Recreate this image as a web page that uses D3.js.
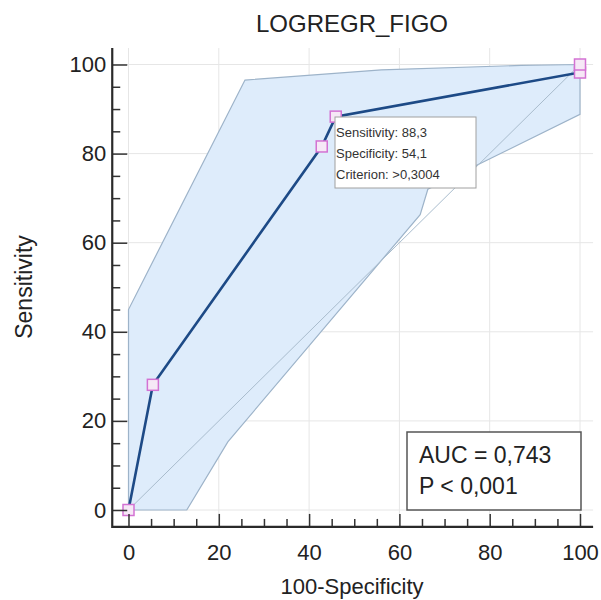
<!DOCTYPE html>
<html>
<head>
<meta charset="utf-8">
<script src="https://cdn.jsdelivr.net/npm/d3@7"></script>
<style>
  body { margin: 0; background: #fff; }
  text { font-family: "Liberation Sans", Arial, sans-serif; fill: #222; }
</style>
</head>
<body>
<div id="chart"></div>
<script>
// ROC curve points (100-Specificity, Sensitivity)
const rocFpr = [0, 5.4, 42.8, 45.9, 100, 100];
const rocTpr = [0, 28.1, 81.6, 88.3, 98.2, 100];

// 95% confidence band outline
const bandX = [0, 0, 25.8, 56, 87, 100, 100, 66.3, 64.6, 22, 12.9];
const bandY = [0, 45, 96.5, 98.8, 99.8, 100, 88.8, 72, 66.3, 15.3, 0];

const majorTicks = [0, 20, 40, 60, 80, 100];
const minorTicks = [5, 10, 15, 25, 30, 35, 45, 50, 55, 65, 70, 75, 85, 90, 95];

const tooltipLines = ['Sensitivity: 88,3', 'Specificity: 54,1', 'Criterion: >0,3004'];
const aucLines = ['AUC = 0,743', 'P < 0,001'];

const width = 601, height = 600;

const svg = d3.select('#chart')
  .append('svg')
  .attr('width', width)
  .attr('height', height);

const x = d3.scaleLinear().domain([0, 100]).range([128.5, 580]);
const y = d3.scaleLinear().domain([0, 100]).range([510, 64.5]);

// axis frame extents (in data units)
const xLo = -3.6, xHi = 102.9, yLo = -3.8, yHi = 103.7;

// gridlines
const grid = svg.append('g').attr('stroke', '#e6e6e6').attr('stroke-width', 1);
grid.selectAll('.gv')
  .data(majorTicks)
  .enter()
  .append('line')
  .attr('x1', d => x(d)).attr('x2', d => x(d))
  .attr('y1', y(yLo)).attr('y2', y(yHi));
grid.selectAll('.gh')
  .data(majorTicks)
  .enter()
  .append('line')
  .attr('y1', d => y(d)).attr('y2', d => y(d))
  .attr('x1', x(xLo)).attr('x2', x(xHi));

// confidence band
const band = bandX.map((d, i) => [x(d), y(bandY[i])]);
svg.append('path')
  .attr('d', d3.line()(band) + 'Z')
  .attr('fill', '#deecfb')
  .attr('stroke', '#9db3c9')
  .attr('stroke-width', 1.2);

// diagonal reference
svg.append('line')
  .attr('x1', x(0)).attr('y1', y(0))
  .attr('x2', x(100)).attr('y2', y(100))
  .attr('stroke', '#a9bccd')
  .attr('stroke-width', 1);

// ROC line
const roc = rocFpr.map((d, i) => ({ fx: d, ty: rocTpr[i] }));
svg.append('path')
  .datum(roc)
  .attr('d', d3.line().x(d => x(d.fx)).y(d => y(d.ty)))
  .attr('fill', 'none')
  .attr('stroke', '#1d4a86')
  .attr('stroke-width', 2.6);

svg.append('g')
  .selectAll('rect')
  .data(roc)
  .enter()
  .append('rect')
  .attr('x', d => x(d.fx) - 5.5)
  .attr('y', d => y(d.ty) - 5.5)
  .attr('width', 11)
  .attr('height', 11)
  .attr('fill', '#f6e8f6')
  .attr('stroke', '#d372d3')
  .attr('stroke-width', 1.5);

// tooltip box
const tip = svg.append('g');
tip.append('rect')
  .attr('x', 335).attr('y', 117)
  .attr('width', 141).attr('height', 71)
  .attr('fill', '#fff')
  .attr('stroke', '#a0a0a0')
  .attr('stroke-width', 1);
tip.selectAll('text')
  .data(tooltipLines)
  .enter()
  .append('text')
  .attr('x', 336)
  .attr('y', (d, i) => 137 + i * 21)
  .style('font-size', '13px')
  .style('fill', '#333')
  .text(d => d);

// AUC box
const auc = svg.append('g');
auc.append('rect')
  .attr('x', 407).attr('y', 432)
  .attr('width', 174).attr('height', 78)
  .attr('fill', '#fff')
  .attr('stroke', '#555')
  .attr('stroke-width', 1.5);
auc.selectAll('text')
  .data(aucLines)
  .enter()
  .append('text')
  .attr('x', 419)
  .attr('y', (d, i) => 463 + i * 31)
  .style('font-size', '23px')
  .text(d => d);

// axes
const xAxisG = svg.append('g').attr('transform', `translate(0,${y(yLo)})`);
xAxisG.call(d3.axisBottom(x).tickValues(majorTicks).tickSize(-13).tickPadding(17));
xAxisG.append('g').call(d3.axisBottom(x).tickValues(minorTicks).tickSize(-8).tickFormat(''));

const yAxisG = svg.append('g').attr('transform', `translate(${x(xLo)},0)`);
yAxisG.call(d3.axisLeft(y).tickValues(majorTicks).tickSize(-15).tickPadding(6));
yAxisG.append('g').call(d3.axisLeft(y).tickValues(minorTicks).tickSize(-8).tickFormat(''));

svg.selectAll('.domain').remove();
svg.selectAll('.tick line').attr('stroke', '#333').attr('stroke-width', 1.5);
svg.selectAll('.tick text')
  .style('font-size', '22px')
  .style('font-family', '"Liberation Sans", Arial, sans-serif')
  .attr('fill', '#222');

svg.append('path')
  .attr('d', `M${x(xLo)},${y(yHi)}V${y(yLo)}H${x(xHi)}`)
  .attr('fill', 'none')
  .attr('stroke', '#2a2a2a')
  .attr('stroke-width', 2.2);

// titles
svg.append('text')
  .attr('x', 352).attr('y', 32)
  .attr('text-anchor', 'middle')
  .style('font-size', '24px')
  .text('LOGREGR_FIGO');

svg.append('text')
  .attr('x', 352).attr('y', 594)
  .attr('text-anchor', 'middle')
  .style('font-size', '22px')
  .text('100-Specificity');

svg.append('text')
  .attr('transform', 'translate(32,287) rotate(-90)')
  .attr('text-anchor', 'middle')
  .style('font-size', '23px')
  .text('Sensitivity');
</script>
</body>
</html>
